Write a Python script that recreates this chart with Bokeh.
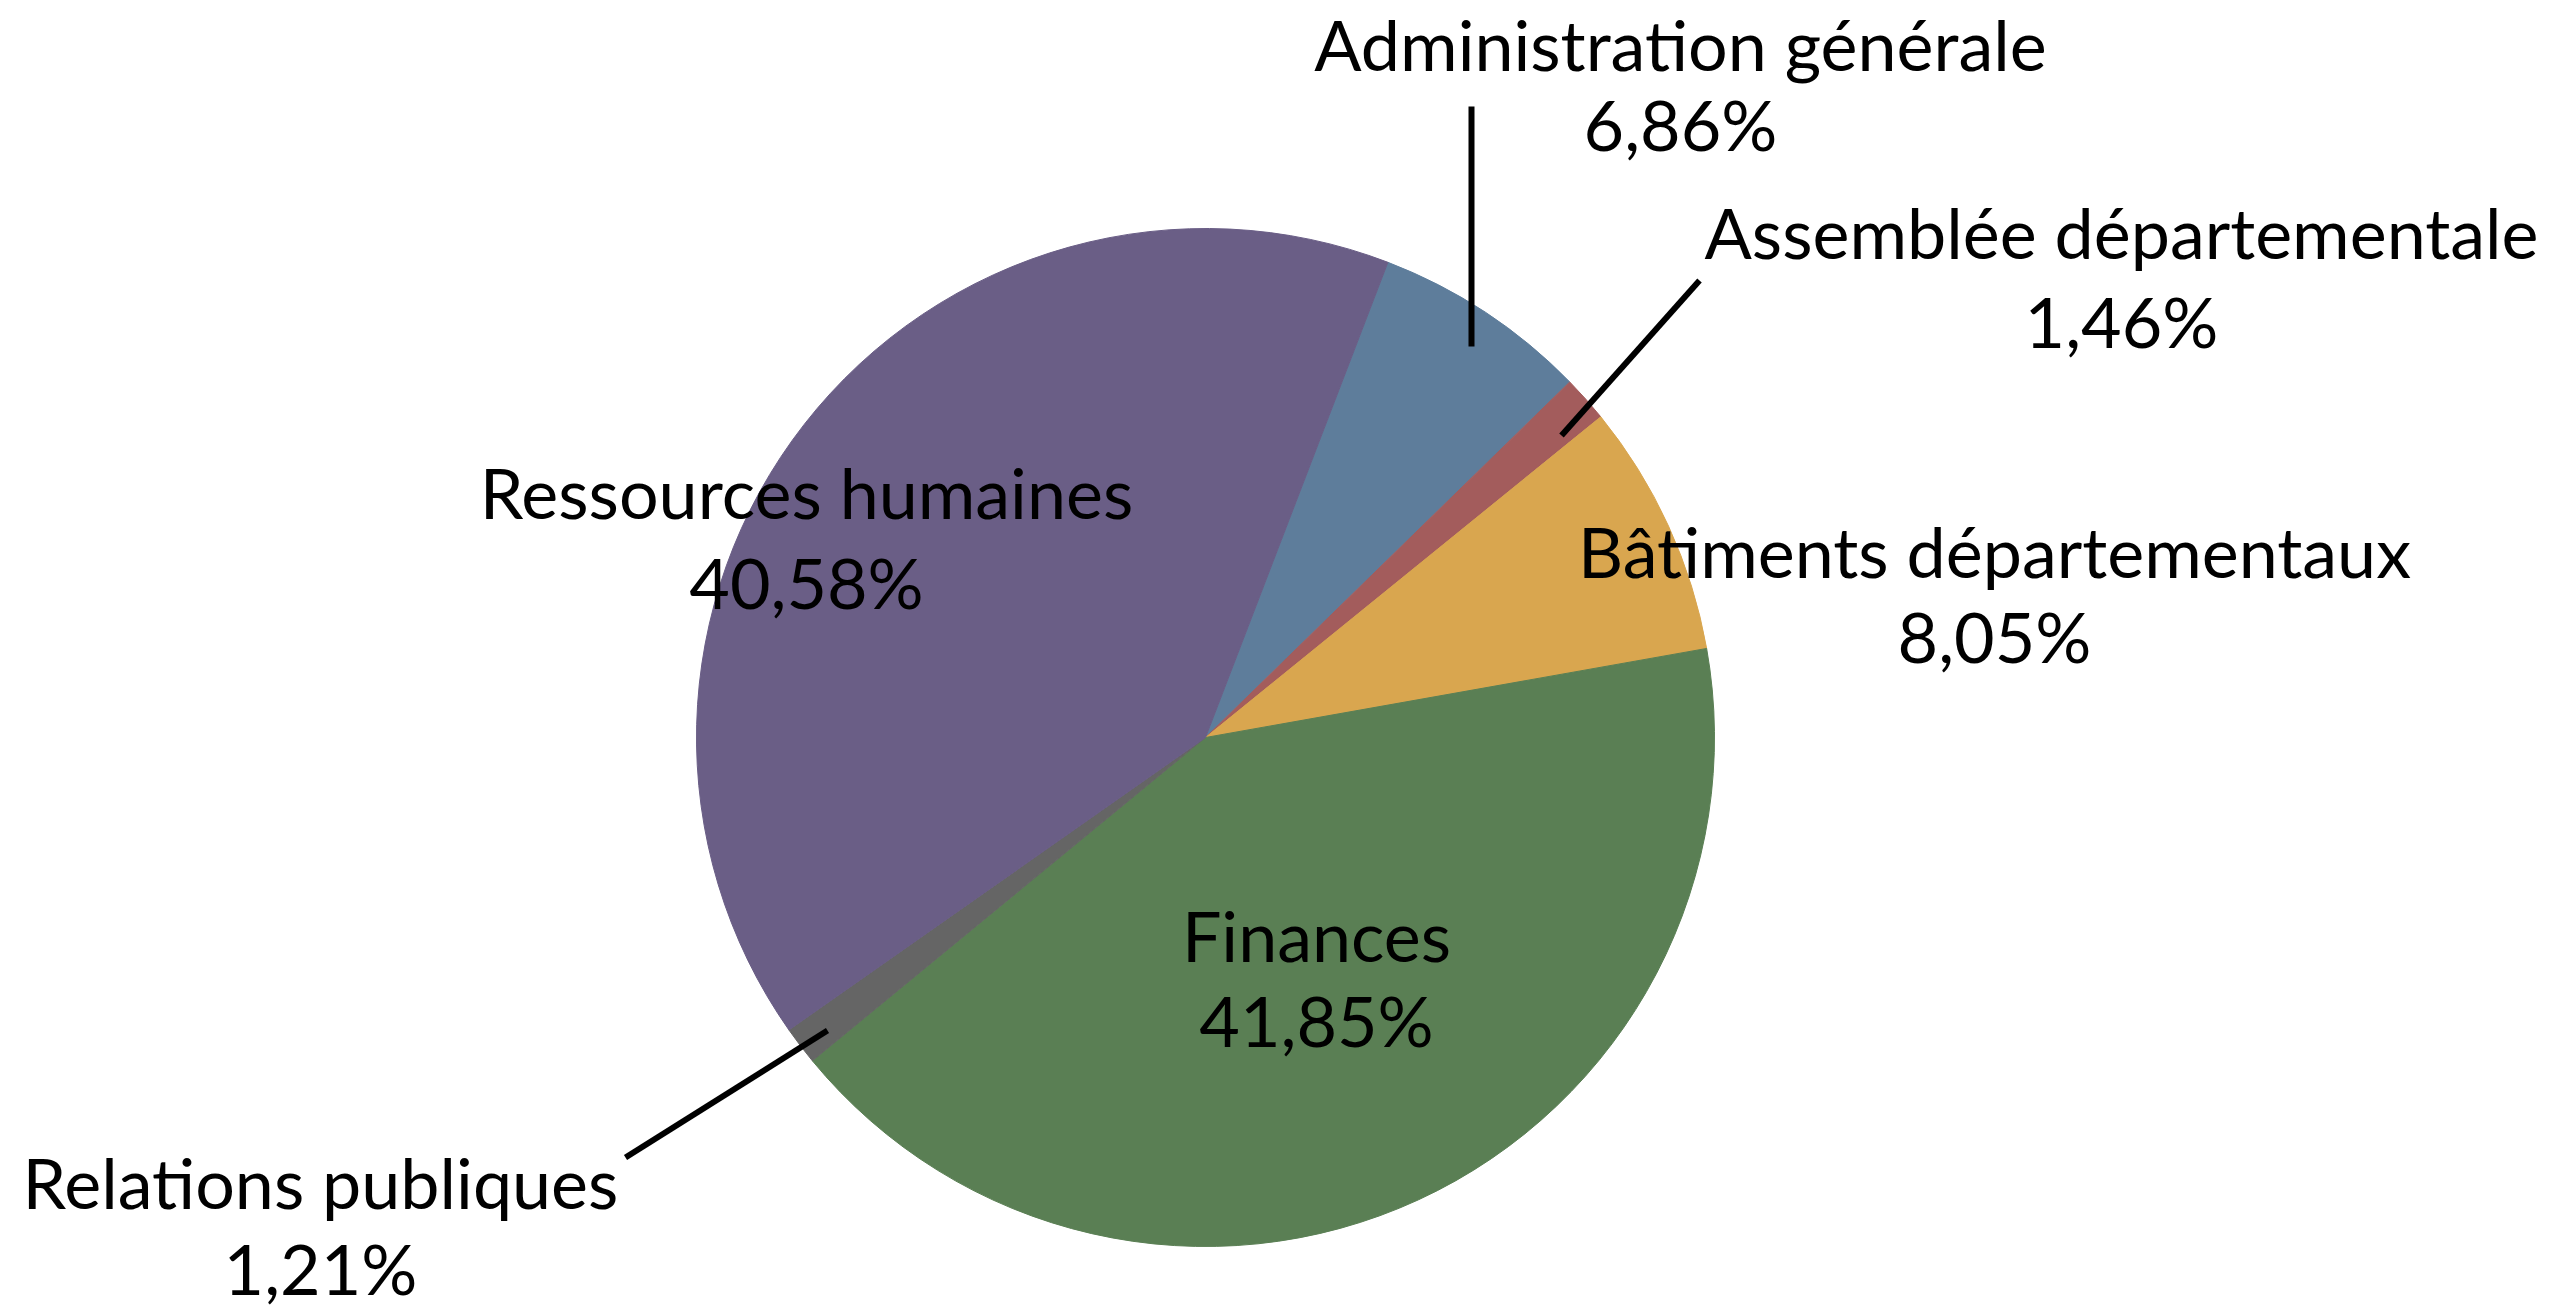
import math
from bokeh.plotting import figure
from bokeh.models import Range1d, ColumnDataSource
from bokeh.core.properties import value
from bokeh.embed import file_html
from bokeh.resources import INLINE

# ---- data ----
categories = ["Administration générale", "Assemblée départementale",
              "Bâtiments départementaux", "Finances",
              "Relations publiques", "Ressources humaines"]
values = [6.86, 1.46, 8.05, 41.85, 1.21, 40.58]
colors = ["#5e7d9b", "#a35c5c", "#d9a64f", "#5a7f54", "#656565", "#6a5e86"]

# ---- layout (reference pixel coordinates) ----
W, H = 2570, 1314
PW, PH = W, H
cx, cy, r = 1205, 737, 509
start_deg = 90 - 21.0  # first slice starts 21 deg clockwise from 12 o'clock

# label anchor: centre x, baseline of line 1, baseline of line 2
label_pos = {
    "Administration générale": (1680, 73, 153),
    "Assemblée départementale": (2121, 261, 350),
    "Bâtiments départementaux": (1994, 580, 665),
    "Finances": (1316, 964, 1049),
    "Relations publiques": (320, 1211, 1297),
    "Ressources humaines": (806, 521, 611),
}
leaders = [((1471, 106), (1471, 346)),
           ((1699, 280), (1561, 435)),
           ((827, 1030), (625, 1157))]

FONT = "Lato"
FS = 70
BASE_CORR = 0.42 * FS  # renderer places alphabetic baseline lower

def Y(y):
    return H - y

p = figure(width=PW, height=PH, output_backend="svg",
           toolbar_location=None, x_range=Range1d(0, PW),
           y_range=Range1d(H - PH, H), min_border=0)
p.axis.visible = False
p.grid.visible = False
p.outline_line_color = None
p.background_fill_color = "white"
p.border_fill_color = "white"

total = sum(values)
starts, ends = [], []
acc = 0.0
for v in values:
    a0 = start_deg - acc / total * 360
    acc += v
    a1 = start_deg - acc / total * 360
    starts.append(math.radians(a0))
    ends.append(math.radians(a1))

src = ColumnDataSource(dict(x=[cx] * len(values), y=[Y(cy)] * len(values),
                            start=starts, end=ends, color=colors,
                            cat=categories))
p.wedge(x="x", y="y", radius=r, start_angle="start", end_angle="end",
        direction="clock", fill_color="color", line_color="color",
        line_width=1, source=src)

for (x0, y0), (x1, y1) in leaders:
    p.line([x0, x1], [Y(y0), Y(y1)], line_color="black", line_width=6)

tx, ty, tt = [], [], []
for cat, v in zip(categories, values):
    lx, b1, b2 = label_pos[cat]
    pct = f"{v:.2f}".replace(".", ",") + "%"
    tx += [lx, lx]
    ty += [Y(b1 - BASE_CORR), Y(b2 - BASE_CORR)]
    tt += [cat, pct]

p.text(x=tx, y=ty, text=tt, text_align="center", text_baseline="alphabetic",
       text_font=value(FONT), text_font_size=f"{FS}px", text_color="black")

open("out.html", "w").write(file_html(p, INLINE))
